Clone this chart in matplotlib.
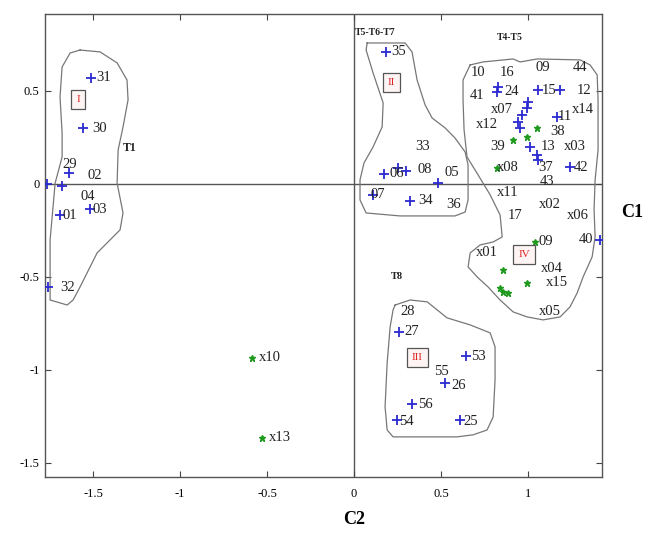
import numpy as np
import matplotlib
matplotlib.use('Agg')
import matplotlib.pyplot as plt

plt.rcParams['font.family'] = ['Liberation Serif', 'DejaVu Serif']

# blue points (numbered samples)
blue_x = [-1.511, -1.557, -1.638, -1.678, -1.764, -1.517, -1.690, -1.759,
          0.184, 0.172, 0.253, 0.300, 0.483, 0.109, 0.322,
          0.828, 0.822, 1.057, 1.184, 1.000, 0.994, 0.966, 0.943, 0.954,
          1.167, 1.011, 1.052, 1.057, 1.241, 1.414,
          0.259, 0.644, 0.523, 0.333, 0.247, 0.609]
blue_y = [0.570, 0.301, 0.059, -0.011, 0.000, -0.134, -0.167, -0.554,
          0.710, 0.054, 0.086, 0.070, 0.005, -0.059, -0.091,
          0.522, 0.495, 0.505, 0.505, 0.441, 0.409, 0.371, 0.333, 0.301,
          0.360, 0.199, 0.156, 0.129, 0.091, -0.301,
          -0.796, -0.925, -1.070, -1.183, -1.269, -1.269]

# green points (x-samples)
green_x = [1.052, 0.914, 0.994, 0.822, 1.040, 0.856, 0.994, 0.856, 0.885, 0.839,
           -0.586, -0.529]
green_y = [0.301, 0.237, 0.253, 0.086, -0.312, -0.462, -0.532, -0.581, -0.586, -0.559,
           -0.935, -1.366]

# point labels
lab_txt = ['31', '30', '29', '02', '04', '03', '01', '32',
           '35', '33', '06', '08', '05', '07', '34', '36',
           '10', '16', '09', '44', '41', '24', '15', '12', 'x07', 'x14', 'x12',
           '11', '38', '39', '13', 'x03', 'x08', '37', '42', '43', 'x11', 'x02',
           '17', 'x06', '09', '40', 'x01', 'x04', 'x15', 'x05',
           '28', '27', '53', '55', '26', '56', '54', '25',
           'x10', 'x13']
lab_x = [-1.437, -1.460, -1.632, -1.489, -1.529, -1.460, -1.632, -1.644,
         0.253, 0.391, 0.247, 0.408, 0.563, 0.138, 0.408, 0.569,
         0.713, 0.879, 1.086, 1.299, 0.707, 0.908, 1.121, 1.322, 0.851, 1.316, 0.764,
         1.213, 1.167, 0.822, 1.115, 1.270, 0.885, 1.103, 1.305, 1.109, 0.885, 1.126,
         0.925, 1.287, 1.103, 1.333, 0.764, 1.138, 1.167, 1.126,
         0.305, 0.328, 0.713, 0.500, 0.598, 0.408, 0.299, 0.672,
         -0.483, -0.425]
lab_y = [0.570, 0.296, 0.102, 0.048, -0.065, -0.140, -0.172, -0.559,
         0.710, 0.199, 0.054, 0.075, 0.059, -0.059, -0.091, -0.113,
         0.597, 0.597, 0.624, 0.624, 0.478, 0.495, 0.505, 0.505, 0.398, 0.398, 0.317,
         0.360, 0.280, 0.199, 0.199, 0.199, 0.086, 0.091, 0.091, 0.011, -0.048, -0.108,
         -0.172, -0.172, -0.312, -0.301, -0.371, -0.452, -0.532, -0.688,
         -0.688, -0.796, -0.930, -1.011, -1.086, -1.188, -1.280, -1.280,
         -0.935, -1.366]

# group names
grp_txt = ['T1', 'T5-T6-T7', 'T4-T5', 'T8']
grp_x = [-1.287, 0.121, 0.897, 0.247]
grp_y = [0.194, 0.812, 0.785, -0.500]
grp_size = [8.5, 7, 7, 7.5]

# cluster numerals (red boxes)
box_txt = ['I', 'II', 'III', 'IV']
box_x = [-1.586, 0.213, 0.362, 0.977]
box_y = [0.452, 0.543, -0.935, -0.382]

# cluster outlines
c1_x = [-1.575, -1.460, -1.362, -1.305, -1.299, -1.328, -1.356, -1.362, -1.328, -1.345,
        -1.477, -1.575, -1.615, -1.649, -1.747, -1.747, -1.718, -1.678, -1.678, -1.690,
        -1.678, -1.632]
c1_y = [0.720, 0.710, 0.651, 0.559, 0.452, 0.306, 0.183, 0.005, -0.156, -0.247,
        -0.371, -0.554, -0.624, -0.651, -0.624, -0.301, 0.005, 0.145, 0.274, 0.468,
        0.629, 0.704]
c2_x = [0.075, 0.293, 0.333, 0.362, 0.408, 0.448, 0.523, 0.580, 0.638, 0.655, 0.655,
        0.638, 0.580, 0.264, 0.069, 0.034, 0.034, 0.057, 0.109, 0.161, 0.167, 0.109,
        0.069]
c2_y = [0.758, 0.758, 0.710, 0.559, 0.425, 0.355, 0.301, 0.247, 0.172, 0.102, -0.086,
        -0.151, -0.172, -0.172, -0.156, -0.086, 0.022, 0.113, 0.199, 0.306, 0.435, 0.597,
        0.720]
c4_x = [0.667, 0.741, 0.914, 0.954, 1.052, 1.299, 1.356, 1.397, 1.402, 1.402, 1.385,
        1.379, 1.385, 1.368, 1.316, 1.282, 1.241, 1.184, 1.086, 0.994, 0.914, 0.839,
        0.770, 0.707, 0.655, 0.667, 0.724, 0.799, 0.851, 0.839, 0.782, 0.713, 0.649,
        0.632, 0.626, 0.626]
c4_y = [0.640, 0.656, 0.672, 0.656, 0.672, 0.667, 0.640, 0.586, 0.452, 0.183, 0.022,
        -0.140, -0.285, -0.392, -0.500, -0.586, -0.661, -0.715, -0.731, -0.715, -0.688,
        -0.624, -0.554, -0.500, -0.446, -0.371, -0.328, -0.312, -0.285, -0.167, -0.059,
        0.048, 0.145, 0.290, 0.452, 0.559]
c3_x = [0.236, 0.322, 0.420, 0.477, 0.534, 0.667, 0.782, 0.810, 0.810, 0.799, 0.764,
        0.684, 0.592, 0.397, 0.224, 0.190, 0.178, 0.190, 0.207, 0.224]
c3_y = [-0.651, -0.624, -0.634, -0.677, -0.720, -0.758, -0.801, -0.876, -1.054, -1.253,
        -1.323, -1.349, -1.360, -1.360, -1.360, -1.323, -1.199, -0.962, -0.769, -0.677]

xticks = [-1.5, -1, -0.5, 0, 0.5, 1]
xtick_lab = ['-1.5', '-1', '-0.5', '0', '0.5', '1']
yticks = [-1.5, -1, -0.5, 0, 0.5]
ytick_lab = ['-1.5', '-1', '-0.5', '0', '0.5']

fig = plt.figure(figsize=(6.53, 5.37), dpi=100)
ax = fig.add_axes([0.069, 0.112, 0.853, 0.862])

ax.axhline(0, color='#555555', lw=1.0, zorder=1)
ax.axvline(0, color='#555555', lw=1.0, zorder=1)

for cx, cy in [(c1_x, c1_y), (c2_x, c2_y), (c4_x, c4_y), (c3_x, c3_y)]:
    ax.plot(cx + cx[:1], cy + cy[:1], color='#777777', lw=0.9,
            solid_joinstyle='round', zorder=2)

ax.plot(blue_x, blue_y, '+', color='#2b2bd0', ms=7, mew=1.3, zorder=3)
ax.plot(green_x, green_y, '*', color='#1f9a1f', ms=5, zorder=3)

for t, x, y in zip(lab_txt, lab_x, lab_y):
    ax.text(x, y, t, fontsize=10.5, color='#222222', ha='center', va='center', zorder=4)

for t, x, y, s in zip(grp_txt, grp_x, grp_y, grp_size):
    ax.text(x, y, t, fontsize=s, fontweight='bold', color='#222222',
            ha='center', va='center')

for t, x, y in zip(box_txt, box_x, box_y):
    ax.text(x, y, t, fontsize=8, color='#e02020', ha='center', va='center',
            bbox=dict(boxstyle='square,pad=0.45', fc='#fff4f4', ec='#555555', lw=0.9))

ax.set_xlim(-1.776, 1.425)
ax.set_ylim(-1.575, 0.914)
ax.set_xticks(xticks)
ax.set_xticklabels(xtick_lab)
ax.set_yticks(yticks)
ax.set_yticklabels(ytick_lab)
ax.tick_params(direction='in', top=True, right=True, labelsize=9, length=4,
               color='#444444', pad=8)
ax.tick_params(axis='y', pad=4)
for s in ax.spines.values():
    s.set_color('#555555')
    s.set_linewidth(1.0)

fig.text(0.968, 0.605, 'C1', fontsize=13, fontweight='bold', ha='center', va='center')
fig.text(0.542, 0.032, 'C2', fontsize=13, fontweight='bold', ha='center', va='center')

fig.savefig('out.png', dpi=100)
